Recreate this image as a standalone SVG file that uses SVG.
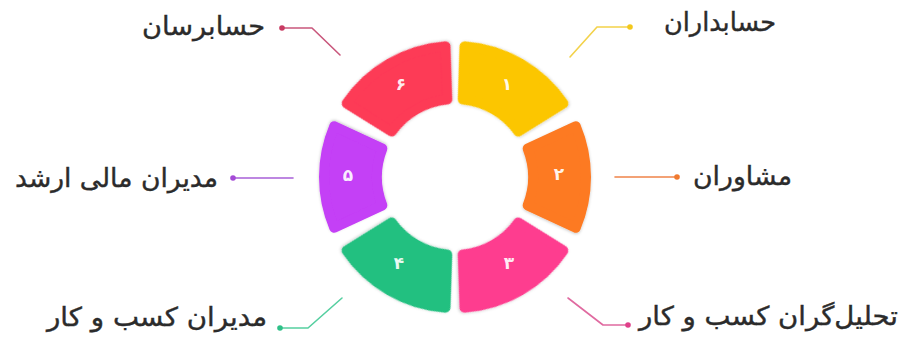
<svg xmlns="http://www.w3.org/2000/svg" xmlns:xlink="http://www.w3.org/1999/xlink" width="904" height="347" viewBox="0 0 904 347">
  <style>
    .seg{stroke-width:10;stroke-linejoin:round;filter:url(#sh)}
    .num{font-family:"DejaVu Sans",sans-serif;font-size:17px;font-weight:bold;fill:#ffffff;fill-opacity:0.92;text-anchor:middle;dominant-baseline:central}
    .lbl{font-family:"DejaVu Sans","Noto Sans",sans-serif;font-size:26px;fill:#2b2b2b;stroke:#2b2b2b;stroke-width:0.4}
    .ln{fill:none;stroke-width:1.6;stroke-linecap:round;stroke-linejoin:round}
  </style>
  <defs>
    <filter id="sh" x="-20%" y="-20%" width="140%" height="140%">
      <feDropShadow dx="0" dy="1" stdDeviation="1.5" flood-color="#000" flood-opacity="0.22"/>
    </filter>
    <path id="segA" d="M117.93 -57.04 A131 131 0 0 1 117.93 57.04 L71.07 32.14 A78 78 0 0 0 71.07 -32.14 Z"/>
    <path id="segB" d="M120.75 -50.79 A131 131 0 0 1 120.75 50.79 L72.66 28.37 A78 78 0 0 0 72.66 -28.37 Z"/>
  </defs>
  <rect width="904" height="347" fill="#ffffff"/>

  <g id="connectors">
    <polyline class="ln" stroke="#f3d24a" points="570,57 597,27 630,27"/>
    <circle cx="630" cy="27" r="2.8" fill="#f3c81c"/>
    <polyline class="ln" stroke="#c9577c" points="340,55 312,28 282,28"/>
    <circle cx="282" cy="28" r="2.8" fill="#c83a62"/>
    <polyline class="ln" stroke="#f0844a" points="615,177 677,177"/>
    <circle cx="677" cy="177" r="2.8" fill="#f07a30"/>
    <polyline class="ln" stroke="#a860d8" points="293,178 233,178"/>
    <circle cx="233" cy="178" r="2.8" fill="#a44ad6"/>
    <polyline class="ln" stroke="#e06aa0" points="568,298 603,325 628,325"/>
    <circle cx="628" cy="325" r="2.8" fill="#e0408a"/>
    <polyline class="ln" stroke="#55cfa0" points="342,298 308,328 280,328"/>
    <circle cx="280" cy="328" r="2.8" fill="#2fc088"/>
  </g>

  <g id="n1">
    <use xlink:href="#segA" class="seg" fill="#fcc600" stroke="#fcc600" transform="translate(455,177) rotate(-60)"/>
    <text class="num" x="507" y="84">۱</text>
    <text class="lbl" x="776" y="31" text-anchor="end" textLength="112" lengthAdjust="spacingAndGlyphs">حسابداران</text>
  </g>
  <g id="n2">
    <use xlink:href="#segB" class="seg" fill="#fd7a22" stroke="#fd7a22" transform="translate(455,177)"/>
    <text class="num" x="559" y="174">۲</text>
    <text class="lbl" x="792" y="185" text-anchor="end" textLength="99" lengthAdjust="spacingAndGlyphs">مشاوران</text>
  </g>
  <g id="n3">
    <use xlink:href="#segA" class="seg" fill="#fe3d8f" stroke="#fe3d8f" transform="translate(455,177) rotate(60)"/>
    <text class="num" x="509" y="263">۳</text>
    <text class="lbl" x="898" y="325" text-anchor="end" textLength="259" lengthAdjust="spacingAndGlyphs">تحلیل‌گران کسب و کار</text>
  </g>
  <g id="n4">
    <use xlink:href="#segA" class="seg" fill="#22c080" stroke="#22c080" transform="translate(455,177) rotate(120)"/>
    <text class="num" x="399" y="263">۴</text>
    <text class="lbl" x="267" y="326" text-anchor="end" textLength="220" lengthAdjust="spacingAndGlyphs">مدیران کسب و کار</text>
  </g>
  <g id="n5">
    <use xlink:href="#segB" class="seg" fill="#c43ff6" stroke="#c43ff6" transform="translate(455,177) rotate(180)"/>
    <text class="num" x="348" y="175">۵</text>
    <text class="lbl" x="218" y="187" text-anchor="end" textLength="203" lengthAdjust="spacingAndGlyphs">مدیران مالی ارشد</text>
  </g>
  <g id="n6">
    <use xlink:href="#segA" class="seg" fill="#fd3a57" stroke="#fd3a57" transform="translate(455,177) rotate(-120)"/>
    <text class="num" x="401" y="84">۶</text>
    <text class="lbl" x="265" y="35" text-anchor="end" textLength="123" lengthAdjust="spacingAndGlyphs">حسابرسان</text>
  </g>
</svg>
